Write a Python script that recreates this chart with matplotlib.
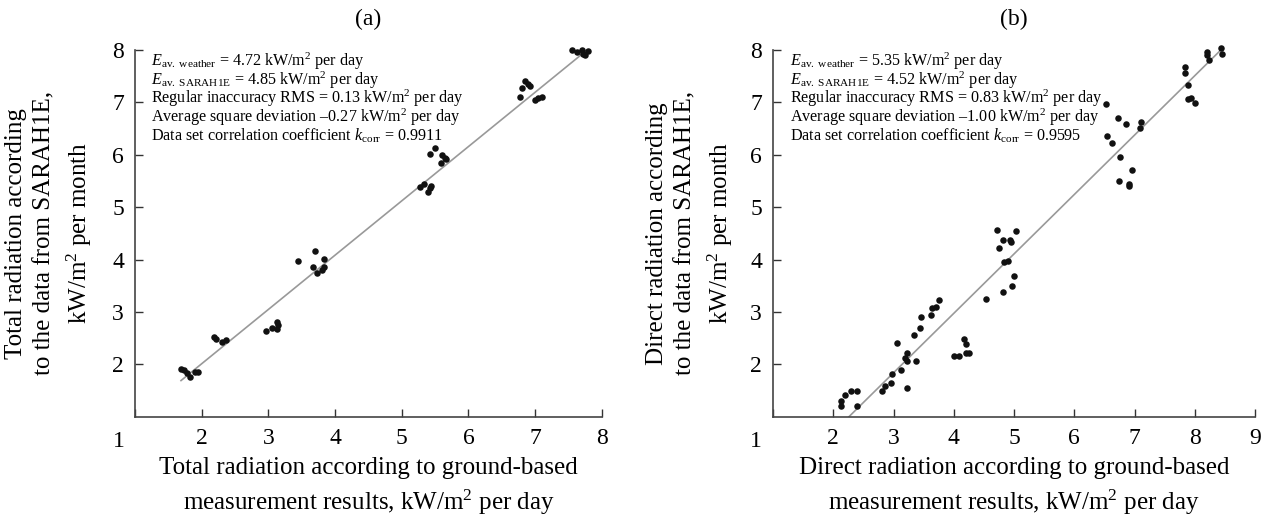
import numpy as np
import matplotlib
matplotlib.use('Agg')
import matplotlib.pyplot as plt

plt.rcParams['font.family'] = ['Liberation Serif', 'DejaVu Serif']
plt.rcParams['mathtext.fontset'] = 'custom'
plt.rcParams['mathtext.rm'] = 'Liberation Serif'
plt.rcParams['mathtext.it'] = 'Liberation Serif:italic'

# panel (a): total radiation
total_x = [7.56, 7.63, 7.70, 7.75, 7.80, 7.72,
           6.85, 6.89, 6.92, 6.81, 6.77, 7.00, 7.05, 7.10,
           5.50, 5.42, 5.61, 5.65, 5.59, 5.67,
           5.28, 5.34, 5.39, 5.42, 5.44,
           3.45, 3.70, 3.83, 3.67, 3.73, 3.80, 3.84,
           2.96, 3.05, 3.13, 3.14, 3.13,
           2.18, 2.22, 2.30, 2.37,
           1.69, 1.73, 1.78, 1.83, 1.90, 1.95]
total_y = [8.00, 7.97, 8.00, 7.91, 7.98, 7.93,
           7.41, 7.36, 7.31, 7.27, 7.11, 7.04, 7.09, 7.11,
           6.12, 6.01, 5.99, 5.93, 5.85, 5.91,
           5.38, 5.44, 5.29, 5.36, 5.40,
           3.97, 4.16, 4.02, 3.85, 3.75, 3.80, 3.86,
           2.64, 2.70, 2.81, 2.75, 2.67,
           2.53, 2.49, 2.43, 2.46,
           1.92, 1.89, 1.84, 1.76, 1.85, 1.86]
total_fit_x = [1.69, 7.78]
total_fit_y = [1.69, 8.00]

# panel (b): direct radiation
direct_x = [2.12, 2.12, 2.19, 2.29, 2.40, 2.39,
            2.81, 2.86, 2.96, 2.97, 3.13, 3.06, 3.19, 3.23, 3.23, 3.22,
            3.37, 3.34, 3.44, 3.45, 3.63, 3.64, 3.70, 3.75,
            4.01, 4.09, 4.17, 4.21, 4.20, 4.25,
            4.54, 4.72, 4.75, 4.82, 4.82, 4.83, 4.90, 4.94, 4.95, 4.96, 5.00, 5.04,
            6.52, 6.72, 6.86, 7.10, 7.09, 6.54, 6.62, 6.76, 6.96, 6.75, 6.91, 6.91,
            7.83, 7.83, 7.88, 7.88, 7.94, 8.01,
            8.21, 8.21, 8.24, 8.44, 8.46]
direct_y = [1.21, 1.30, 1.41, 1.50, 1.49, 1.21,
            1.50, 1.59, 1.64, 1.81, 1.90, 2.40, 2.12, 2.21, 2.07, 1.55,
            2.06, 2.56, 2.70, 2.90, 2.94, 3.07, 3.09, 3.22,
            2.16, 2.16, 2.48, 2.38, 2.22, 2.22,
            3.24, 4.56, 4.22, 4.37, 3.38, 3.95, 3.98, 4.37, 4.34, 3.49, 3.69, 4.54,
            6.97, 6.71, 6.58, 6.63, 6.52, 6.36, 6.22, 5.96, 5.71, 5.50, 5.45, 5.40,
            7.68, 7.56, 7.33, 7.06, 7.09, 6.98,
            7.97, 7.90, 7.81, 8.03, 7.92]
direct_fit_x = [2.26, 8.45]
direct_fit_y = [1.00, 8.02]

notes_a = [r'$E_{\rm av.\ weather}$ = 4.72 kW/m$^2$ per day',
           r'$E_{\rm av.\ SARAH1E}$ = 4.85 kW/m$^2$ per day',
           r'Regular inaccuracy RMS = 0.13 kW/m$^2$ per day',
           'Average square deviation \u20130.27 kW/m$^2$ per day',
           r'Data set correlation coefficient $k_{\rm corr}$ = 0.9911']
notes_b = [r'$E_{\rm av.\ weather}$ = 5.35 kW/m$^2$ per day',
           r'$E_{\rm av.\ SARAH1E}$ = 4.52 kW/m$^2$ per day',
           r'Regular inaccuracy RMS = 0.83 kW/m$^2$ per day',
           'Average square deviation \u20131.00 kW/m$^2$ per day',
           r'Data set correlation coefficient $k_{\rm corr}$ = 0.9595']

fig = plt.figure(figsize=(12.7, 5.16), dpi=100)
ax_a = fig.add_axes([0.1063, 0.1924, 0.3675, 0.7107])
ax_b = fig.add_axes([0.6087, 0.1924, 0.3795, 0.7107])

panels = [
    (ax_a, total_x, total_y, total_fit_x, total_fit_y, notes_a, 8, '(a)',
     'Total radiation according to ground-based\nmeasurement results, kW/m$^2$ per day',
     'Total radiation according\nto the data from SARAH1E,\nkW/m$^2$ per month', -0.088),
    (ax_b, direct_x, direct_y, direct_fit_x, direct_fit_y, notes_b, 9, '(b)',
     'Direct radiation according to ground-based\nmeasurement results, kW/m$^2$ per day',
     'Direct radiation according\nto the data from SARAH1E,\nkW/m$^2$ per month', -0.079),
]

for ax, x, y, fx, fy, notes, xmax, title, xlab, ylab, ylab_x in panels:
    ax.plot(fx, fy, color='#999999', lw=1.2, zorder=2)
    ax.scatter(x, y, s=22, color='#111111', zorder=3, clip_on=False, linewidths=0)
    ax.set_xlim(1, xmax)
    ax.set_ylim(1, 8)
    ax.set_xticks(range(1, xmax + 1))
    ax.set_xticklabels([''] + [str(v) for v in range(2, xmax + 1)])
    ax.set_yticks(range(2, 9))
    ax.tick_params(direction='in', length=6, width=1, color='#333333',
                   labelsize=17, pad=8)
    ax.text(-0.035, -0.04, '1', transform=ax.transAxes, ha='center', va='top',
            fontsize=17)
    for s in ['top', 'right']:
        ax.spines[s].set_visible(False)
    for s in ['left', 'bottom']:
        ax.spines[s].set_color('#444444')
        ax.spines[s].set_linewidth(1.2)
    ax.set_title(title, fontsize=17, pad=18)
    ax.set_xlabel(xlab, fontsize=18, linespacing=1.4, labelpad=6)
    ax.set_ylabel(ylab, fontsize=18, linespacing=1.4)
    ax.yaxis.set_label_coords(ylab_x, 0.5)
    for i, t in enumerate(notes):
        ax.text(0.035, 0.978 - i * 0.0515, t, transform=ax.transAxes,
                ha='left', va='center_baseline', fontsize=11.6)

fig.savefig('out.png', dpi=100)
